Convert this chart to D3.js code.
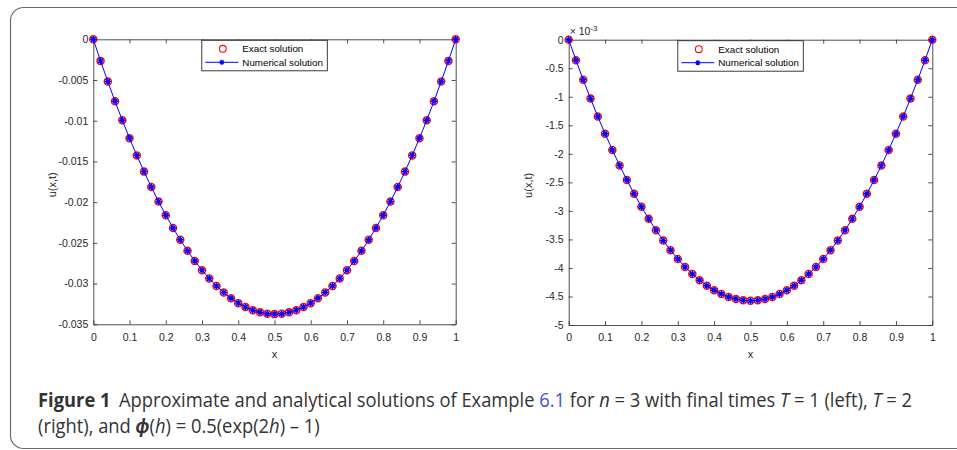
<!DOCTYPE html>
<html>
<head>
<meta charset="utf-8">
<script src="https://cdn.jsdelivr.net/npm/d3@7"></script>
<style>
  body { margin: 0; background: #fff; }
  svg { display: block; }
  .tick text { font-family: "Liberation Sans", Arial, sans-serif; font-size: 10.5px; fill: #262626; }
  .domain, .tick line { stroke: #3a3a3a; stroke-width: 0.9; }
</style>
</head>
<body>
<svg id="chart"></svg>
<script>
// x positions of the samples
var xs = [0, 0.02, 0.04, 0.06, 0.08, 0.1, 0.12, 0.14, 0.16, 0.18, 0.2, 0.22, 0.24, 0.26, 0.28, 0.3, 0.32, 0.34, 0.36, 0.38, 0.4, 0.42, 0.44, 0.46, 0.48, 0.5,
          0.52, 0.54, 0.56, 0.58, 0.6, 0.62, 0.64, 0.66, 0.68, 0.7, 0.72, 0.74, 0.76, 0.78, 0.8, 0.82, 0.84, 0.86, 0.88, 0.9, 0.92, 0.94, 0.96, 0.98, 1];

// T = 1 (left)
var exactLeft = [0, -0.00265, -0.00518, -0.00761, -0.00994, -0.01215, -0.01426, -0.01625, -0.01814, -0.01993, -0.02160, -0.02317, -0.02462, -0.02597, -0.02722, -0.02835, -0.02938, -0.03029, -0.03110, -0.03181, -0.03240, -0.03289, -0.03326, -0.03353, -0.03370, -0.03375,
                 -0.03370, -0.03353, -0.03326, -0.03289, -0.03240, -0.03181, -0.03110, -0.03029, -0.02938, -0.02835, -0.02722, -0.02597, -0.02462, -0.02317, -0.02160, -0.01993, -0.01814, -0.01625, -0.01426, -0.01215, -0.00994, -0.00761, -0.00518, -0.00265, 0];
var numLeft = [0, -0.00265, -0.00518, -0.00761, -0.00994, -0.01215, -0.01426, -0.01625, -0.01814, -0.01993, -0.02160, -0.02317, -0.02462, -0.02597, -0.02722, -0.02835, -0.02938, -0.03029, -0.03110, -0.03181, -0.03240, -0.03289, -0.03326, -0.03353, -0.03370, -0.03375,
               -0.03370, -0.03353, -0.03326, -0.03289, -0.03240, -0.03181, -0.03110, -0.03029, -0.02938, -0.02835, -0.02722, -0.02597, -0.02462, -0.02317, -0.02160, -0.01993, -0.01814, -0.01625, -0.01426, -0.01215, -0.00994, -0.00761, -0.00518, -0.00265, 0];

// T = 2 (right)
var exactRight = [0, -0.000359, -0.000703, -0.001032, -0.001347, -0.001647, -0.001932, -0.002203, -0.002460, -0.002701, -0.002928, -0.003140, -0.003338, -0.003521, -0.003689, -0.003843, -0.003982, -0.004107, -0.004216, -0.004311, -0.004392, -0.004458, -0.004509, -0.004546, -0.004568, -0.004575,
                  -0.004568, -0.004546, -0.004509, -0.004458, -0.004392, -0.004311, -0.004216, -0.004107, -0.003982, -0.003843, -0.003689, -0.003521, -0.003338, -0.003140, -0.002928, -0.002701, -0.002460, -0.002203, -0.001932, -0.001647, -0.001347, -0.001032, -0.000703, -0.000359, 0];
var numRight = [0, -0.000359, -0.000703, -0.001032, -0.001347, -0.001647, -0.001932, -0.002203, -0.002460, -0.002701, -0.002928, -0.003140, -0.003338, -0.003521, -0.003689, -0.003843, -0.003982, -0.004107, -0.004216, -0.004311, -0.004392, -0.004458, -0.004509, -0.004546, -0.004568, -0.004575,
                -0.004568, -0.004546, -0.004509, -0.004458, -0.004392, -0.004311, -0.004216, -0.004107, -0.003982, -0.003843, -0.003689, -0.003521, -0.003338, -0.003140, -0.002928, -0.002701, -0.002460, -0.002203, -0.001932, -0.001647, -0.001347, -0.001032, -0.000703, -0.000359, 0];

var xTicks = [0, 0.1, 0.2, 0.3, 0.4, 0.5, 0.6, 0.7, 0.8, 0.9, 1];
var yTicksLeft = [0, -0.005, -0.01, -0.015, -0.02, -0.025, -0.03, -0.035];
var yTicksRight = [0, -0.0005, -0.001, -0.0015, -0.002, -0.0025, -0.003, -0.0035, -0.004, -0.0045, -0.005];
var legendLabels = ["Exact solution", "Numerical solution"];

var width = 957, height = 450;
var svg = d3.select("#chart").attr("width", width).attr("height", height);

// outer frame of the figure
svg.append("rect")
  .attr("x", 10.5).attr("y", 7.5)
  .attr("width", 980).attr("height", 441)
  .attr("rx", 13)
  .attr("fill", "none")
  .attr("stroke", "#6b6b6b")
  .attr("stroke-width", 1.2);

var font = "'Liberation Sans', Arial, sans-serif";

function asterisk(s) {
  var d = s * 0.7071;
  return "M0," + (-s) + "V" + s + "M" + (-s) + ",0H" + s +
         "M" + (-d) + "," + (-d) + "L" + d + "," + d + "M" + (-d) + "," + d + "L" + d + "," + (-d);
}

// matlab style labels: plain hyphen for the minus sign
function plain(v) {
  return String(v);
}

function panel(box, exact, num, yTicks, yDomain, fmt, legendX, scaled) {
  var x = d3.scaleLinear().domain([0, 1]).range([box.x0, box.x1]);
  var y = d3.scaleLinear().domain(yDomain).range([box.y1, box.y0]);

  var g = svg.append("g");

  g.append("g")
    .attr("transform", "translate(0," + box.y1 + ")")
    .call(d3.axisBottom(x).tickValues(xTicks).tickSizeInner(-4).tickSizeOuter(0).tickPadding(9)
      .tickFormat(plain));
  g.append("g")
    .attr("transform", "translate(0," + box.y0 + ")")
    .call(d3.axisTop(x).tickValues(xTicks).tickSizeInner(-4).tickSizeOuter(0).tickFormat(""));
  g.append("g")
    .attr("transform", "translate(" + box.x0 + ",0)")
    .call(d3.axisLeft(y).tickValues(yTicks).tickSizeInner(-4).tickSizeOuter(0).tickPadding(5)
      .tickFormat(fmt));
  g.append("g")
    .attr("transform", "translate(" + box.x1 + ",0)")
    .call(d3.axisRight(y).tickValues(yTicks).tickSizeInner(-4).tickSizeOuter(0).tickFormat(""));

  // axis labels
  g.append("text")
    .attr("x", (box.x0 + box.x1) / 2).attr("y", 357.5)
    .attr("text-anchor", "middle")
    .style("font-family", font).style("font-size", "11px").style("fill", "#262626")
    .text("x");
  g.append("text")
    .attr("transform", "translate(" + (box.x0 - 37) + "," + ((box.y0 + box.y1) / 2 + 3) + ") rotate(-90)")
    .attr("text-anchor", "middle")
    .style("font-family", font).style("font-size", "11px").style("fill", "#262626")
    .text("u(x,t)");

  if (scaled) {
    var t = g.append("text")
      .attr("x", box.x0 + 1).attr("y", box.y0 - 5)
      .style("font-family", font).style("font-size", "10.5px").style("fill", "#262626");
    t.append("tspan").text("\u00d7 10");
    t.append("tspan").attr("dy", -4).style("font-size", "8px").text("-3");
  }

  var pts = xs.map(function (d, i) { return { x: d, e: exact[i], n: num[i] }; });

  // exact solution: red open circles
  g.selectAll(".ex")
    .data(pts)
    .enter().append("circle")
    .attr("class", "ex")
    .attr("cx", d => x(d.x))
    .attr("cy", d => y(d.e))
    .attr("r", 3.6)
    .attr("fill", "none")
    .attr("stroke", "#ff0000")
    .attr("stroke-width", 1.3);

  // numerical solution: blue line with asterisks
  g.append("path")
    .datum(pts)
    .attr("fill", "none")
    .attr("stroke", "#0000ff")
    .attr("stroke-width", 1)
    .attr("d", d3.line().x(d => x(d.x)).y(d => y(d.n)));

  g.selectAll(".nm")
    .data(pts)
    .enter().append("path")
    .attr("class", "nm")
    .attr("transform", d => "translate(" + x(d.x) + "," + y(d.n) + ")")
    .attr("d", asterisk(3.2))
    .attr("fill", "none")
    .attr("stroke", "#0000ff")
    .attr("stroke-width", 1.4);

  // legend
  var lg = g.append("g").attr("transform", "translate(" + legendX + "," + (box.y0 + 1) + ")");
  lg.append("rect")
    .attr("width", 125.5).attr("height", 30.5)
    .attr("fill", "#fff")
    .attr("stroke", "#262626")
    .attr("stroke-width", 0.9);
  lg.append("circle")
    .attr("cx", 21).attr("cy", 8.5).attr("r", 3.4)
    .attr("fill", "none").attr("stroke", "#ff0000").attr("stroke-width", 1.1);
  lg.append("line")
    .attr("x1", 3.5).attr("x2", 36.5).attr("y1", 22).attr("y2", 22)
    .attr("stroke", "#0000ff").attr("stroke-width", 1);
  lg.append("path")
    .attr("transform", "translate(20,22)")
    .attr("d", asterisk(2.6))
    .attr("fill", "none").attr("stroke", "#0000ff").attr("stroke-width", 1.2);
  lg.selectAll(".lt")
    .data(legendLabels)
    .enter().append("text")
    .attr("class", "lt")
    .attr("x", 40.5)
    .attr("y", (d, i) => 12 + i * 13.4)
    .style("font-family", font).style("font-size", "9.8px").style("fill", "#000")
    .text(d => d);
}

panel({ x0: 93.3, x1: 455.7, y0: 39.3, y1: 324.3 }, exactLeft, numLeft, yTicksLeft, [-0.035, 0],
      d => plain(+d.toFixed(4)), 201.8, false);
panel({ x0: 568.7, x1: 932.3, y0: 39.7, y1: 325 }, exactRight, numRight, yTicksRight, [-0.005, 0],
      d => plain(+(d * 1000).toFixed(2)), 677.8, true);

// caption, drawn a little condensed like the journal font
var capSize = 19.5;
var cap = svg.append("text")
  .attr("x", 0).attr("y", 0)
  .style("font-family", "'Open Sans', sans-serif")
  .style("font-size", capSize + "px")
  .style("fill", "#333");
cap.append("tspan").style("font-weight", "bold").text("Figure 1");
cap.append("tspan").attr("dx", 9).text("Approximate and analytical solutions of Example ");
cap.append("tspan").style("fill", "#3f51d9").text("6.1");
cap.append("tspan").text(" for ");
cap.append("tspan").style("font-style", "italic").text("n");
cap.append("tspan").text(" = 3 with final times ");
cap.append("tspan").style("font-style", "italic").text("T");
cap.append("tspan").text(" = 1 (left), ");
cap.append("tspan").style("font-style", "italic").text("T");
cap.append("tspan").text(" = 2");

var cap2 = svg.append("text")
  .attr("x", 0).attr("y", 0)
  .style("font-family", "'Open Sans', sans-serif")
  .style("font-size", capSize + "px")
  .style("fill", "#333");
cap2.append("tspan").text("(right), and ");
cap2.append("tspan").style("font-weight", "bold").style("font-style", "italic").text("\u03d5");
cap2.append("tspan").text("(");
cap2.append("tspan").style("font-style", "italic").text("h");
cap2.append("tspan").text(") = 0.5(exp(2");
cap2.append("tspan").style("font-style", "italic").text("h");
cap2.append("tspan").text(") \u2013 1)");

var sx = 866 / cap.node().getComputedTextLength();
cap.attr("transform", "translate(38,406.5) scale(" + sx + ",1)");
cap2.attr("transform", "translate(38,432.5) scale(" + sx + ",1)");
</script>
</body>
</html>
